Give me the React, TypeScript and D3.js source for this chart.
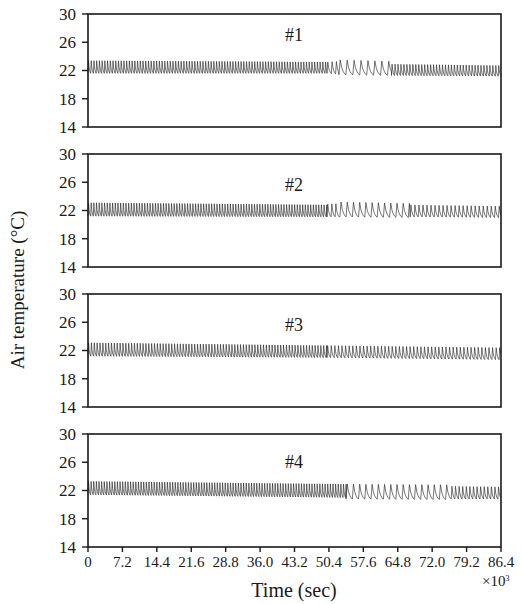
import * as d3 from "d3";

const panelLabels = ["#1", "#2", "#3", "#4"];
const yTicks = [14, 18, 22, 26, 30];
const xTicks = [0, 7.2, 14.4, 21.6, 28.8, 36.0, 43.2, 50.4, 57.6, 64.8, 72.0, 79.2, 86.4];
const xTickLabels = ["0", "7.2", "14.4", "21.6", "28.8", "36.0", "43.2", "50.4", "57.6", "64.8", "72.0", "79.2", "86.4"];

// cycling segments:
// [start (ks), end (ks), cycle length (ks), peak at start, peak at end, trough at start, trough at end]
const sensor1 = [
  [0, 50, 0.57, 23.4, 23.2, 21.6, 21.6],
  [50, 52.5, 0.9, 23.2, 23.3, 21.6, 21.5],
  [52.5, 63.5, 1.45, 23.5, 23.3, 21.4, 21.3],
  [63.5, 86.4, 0.62, 22.9, 22.7, 21.3, 21.2],
];
const sensor2 = [
  [0, 50, 0.56, 23.1, 22.8, 21.2, 21.1],
  [50, 52.7, 0.85, 22.9, 23.0, 21.1, 21.1],
  [52.7, 67.4, 1.3, 23.2, 23.0, 21.1, 21.0],
  [67.4, 86.4, 0.84, 22.8, 22.6, 21.1, 21.0],
];
const sensor3 = [
  [0, 50, 0.6, 23.1, 22.7, 21.2, 21.0],
  [50, 86.4, 0.75, 22.7, 22.4, 21.0, 20.7],
];
const sensor4 = [
  [0, 54, 0.55, 23.3, 22.9, 21.4, 21.0],
  [54, 76, 1.3, 22.9, 22.8, 20.8, 20.7],
  [76, 86.4, 0.75, 22.6, 22.5, 20.8, 20.8],
];
const sensors = [sensor1, sensor2, sensor3, sensor4];

// shape of one cycle: fraction of cycle, fraction of swing from trough
const cycleFrac = [0, 0.18, 0.38, 0.58, 0.78];
const cycleLevel = [0, 1, 0.5, 0.24, 0.09];

function buildTrace(segs: number[][]) {
  const pts: [number, number][] = [];
  segs.forEach(([t0, t1, p, h0, h1, l0, l1]) => {
    for (let t = t0; t < t1 - 1e-6; t += p) {
      const f = (t - t0) / (t1 - t0);
      const hi = h0 + (h1 - h0) * f;
      const lo = l0 + (l1 - l0) * f;
      cycleFrac.forEach((c, i) => {
        const tt = t + c * p;
        if (tt <= t1) pts.push([tt, lo + (hi - lo) * cycleLevel[i]]);
      });
    }
  });
  return pts;
}

const W = 521;
const H = 604;
const left = 88;
const right = 501;
const panelTop = [14, 154, 294, 434];
const panelH = 113;
const labelDy = [21, 31, 31, 28];
const serif = "'Liberation Serif', 'Times New Roman', serif";

export default function App() {
  const x = d3.scaleLinear().domain([0, 86.4]).range([left, right]);

  return (
    <svg width={W} height={H} style={{ position: "absolute", left: 0, top: 0, background: "#fff" }} fontFamily={serif}>
      {sensors.map((segs, k) => {
        const top = panelTop[k];
        const y = d3.scaleLinear().domain([14, 30]).range([top + panelH, top]);
        const line = d3
          .line<[number, number]>()
          .x((d) => x(d[0]))
          .y((d) => y(d[1]));
        const data = buildTrace(segs);
        return (
          <g key={k}>
            <path d={line(data) || ""} fill="none" stroke="#1a1a1a" strokeWidth={0.6} strokeLinejoin="round" />
            <rect x={left} y={top} width={right - left} height={panelH} fill="none" stroke="#1a1a1a" strokeWidth={1.6} />
            {yTicks.map((t) => (
              <g key={t}>
                <line x1={left - 6} x2={left} y1={y(t)} y2={y(t)} stroke="#1a1a1a" strokeWidth={1.4} />
                <text x={76} y={y(t)} dy="0.35em" textAnchor="end" fontSize={17} fill="#1a1a1a">
                  {t}
                </text>
              </g>
            ))}
            <text x={294} y={top + labelDy[k]} dy="0.35em" textAnchor="middle" fontSize={18} fill="#1a1a1a">
              {panelLabels[k]}
            </text>
          </g>
        );
      })}
      {xTicks.map((t, i) => (
        <g key={i}>
          <line x1={x(t)} x2={x(t)} y1={panelTop[3] + panelH} y2={panelTop[3] + panelH + 5} stroke="#1a1a1a" strokeWidth={1.4} />
          <text x={x(t)} y={567} textAnchor="middle" fontSize={15} fill="#1a1a1a">
            {xTickLabels[i]}
          </text>
        </g>
      ))}
      <text x={482} y={586} fontSize={15} fill="#1a1a1a">
        ×10<tspan fontSize={8} dy={-5}>3</tspan>
      </text>
      <text x={294} y={597} textAnchor="middle" fontSize={20} fill="#1a1a1a">
        Time (sec)
      </text>
      <text transform={`translate(24,${290}) rotate(-90)`} textAnchor="middle" fontSize={19} fill="#1a1a1a">
        Air temperature (°C)
      </text>
    </svg>
  );
}
